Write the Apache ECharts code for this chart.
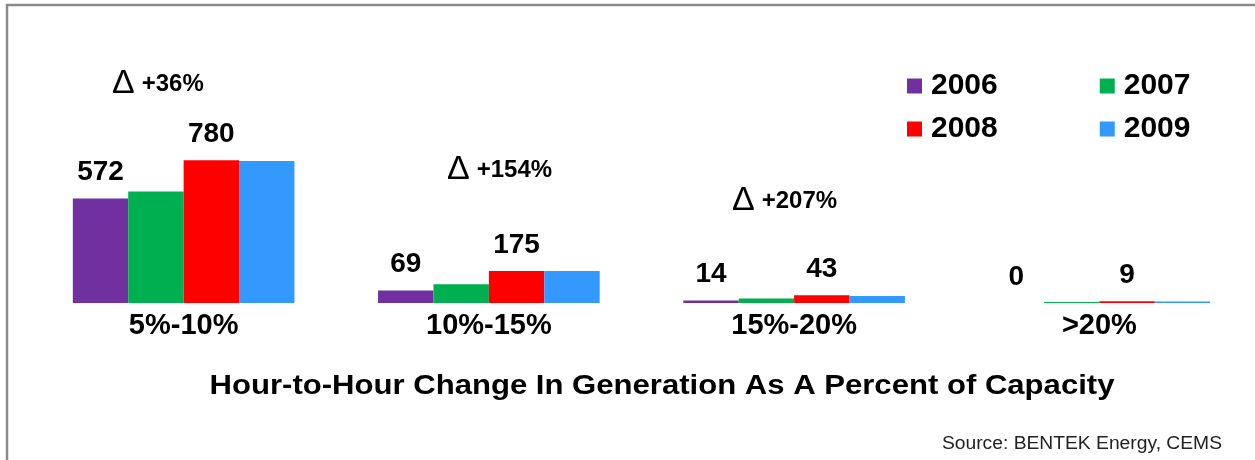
<!DOCTYPE html>
<html>
<head>
<meta charset="utf-8">
<script src="https://cdn.jsdelivr.net/npm/echarts@6/dist/echarts.min.js"></script>
<style>
html,body{margin:0;padding:0;background:#fff;}
#chart{width:1255px;height:460px;}
</style>
</head>
<body>
<div id="chart"></div>
<script>
const categories = ['5%-10%', '10%-15%', '15%-20%', '>20%'];
const years = ['2006', '2007', '2008', '2009'];
const values2006 = [572, 69, 14, 0];
const values2007 = [610, 102, 25, 6];
const values2008 = [780, 175, 43, 9];
const values2009 = [776, 175, 38, 8];
const deltas = ['+36%', '+154%', '+207%'];
const titleText = 'Hour-to-Hour Change In Generation As A Percent of Capacity';
const sourceText = 'Source: BENTEK Energy, CEMS';

const FONT = "'Liberation Sans', Arial, sans-serif";
const colors = ['#7030A0', '#00B050', '#FF0000', '#3399FF'];
const seriesValues = [values2006, values2007, values2008, values2009];
const labelled = [true, false, true, false];

const chart = echarts.init(document.getElementById('chart'));

const series = years.map((y, i) => ({
  name: y,
  type: 'bar',
  data: seriesValues[i],
  barGap: '0%',
  barCategoryGap: '27.4%',
  itemStyle: { color: colors[i] },
  label: {
    show: labelled[i],
    position: 'top',
    distance: 12,
    color: '#000',
    fontFamily: FONT,
    fontWeight: 'bold',
    fontSize: 28
  }
}));

const deltaPos = [[112, 84], [447, 170], [732, 201]];
const graphics = [
  { type: 'rect', silent: true, shape: { x: 7, y: 5, width: 1400, height: 700 },
    style: { fill: 'none', stroke: '#8a8a8a', lineWidth: 2.5 } },
  { type: 'text', x: 662, y: 386, scaleX: 1.11, silent: true,
    style: { text: titleText, font: 'bold 28px ' + FONT, fill: '#000',
             textAlign: 'center', textVerticalAlign: 'middle' } },
  { type: 'text', x: 1222, y: 444, scaleX: 1.07, silent: true,
    style: { text: sourceText, font: '18px ' + FONT, fill: '#222',
             textAlign: 'right', textVerticalAlign: 'middle' } }
];
deltas.forEach((d, i) => {
  graphics.push({
    type: 'text', x: deltaPos[i][0], y: deltaPos[i][1], silent: true,
    style: {
      text: '{d|Δ}{p|' + d + '}',
      textAlign: 'left', textVerticalAlign: 'middle',
      rich: {
        d: { fontFamily: FONT, fontSize: 34, color: '#000', padding: [0, 7, 0, 0] },
        p: { fontFamily: FONT, fontSize: 24, fontWeight: 'bold', color: '#000' }
      }
    }
  });
});

const legendBase = {
  orient: 'horizontal',
  left: 907,
  padding: 0,
  itemWidth: 15,
  itemHeight: 15,
  itemGap: 102,
  icon: 'rect',
  selectedMode: false,
  textStyle: { fontFamily: FONT, fontSize: 30, fontWeight: 'bold', color: '#000', padding: [0, 0, 0, 4] }
};

chart.setOption({
  animation: false,
  backgroundColor: '#fff',
  legend: [
    Object.assign({}, legendBase, { top: 71, data: [years[0], years[1]] }),
    Object.assign({}, legendBase, { top: 114, data: [years[2], years[3]] })
  ],
  grid: { left: 31, right: 3, top: 47, bottom: 157, containLabel: false },
  xAxis: {
    type: 'category',
    data: categories,
    axisLine: { show: false },
    axisTick: { show: false },
    axisLabel: { margin: 8, color: '#000', fontFamily: FONT, fontWeight: 'bold', fontSize: 29 }
  },
  yAxis: {
    type: 'value', min: 0, max: 1400, show: false,
    splitLine: { show: false }
  },
  series: series,
  graphic: graphics
});
</script>
</body>
</html>
